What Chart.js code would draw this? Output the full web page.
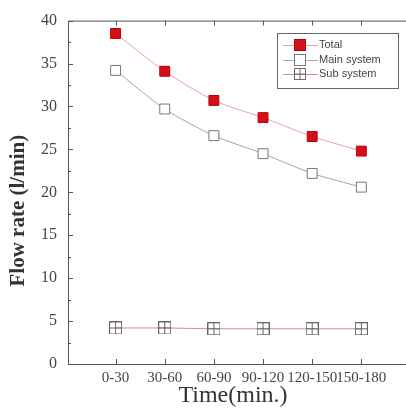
<!DOCTYPE html>
<html>
<head>
<meta charset="utf-8">
<script src="https://cdn.jsdelivr.net/npm/chart.js@4"></script>
<style>
  body { margin: 0; background: #fff; }
  #wrap { width: 406px; height: 414px; position: relative; }
</style>
</head>
<body>
<div id="wrap"><canvas id="flowChart"></canvas></div>
<script>
const timeLabels = ['0-30', '30-60', '60-90', '90-120', '120-150', '150-180'];
const totalFlow = [38.5, 34.1, 30.7, 28.7, 26.5, 24.8];
const mainFlow = [34.2, 29.7, 26.6, 24.5, 22.2, 20.6];
const subFlow = [4.2, 4.2, 4.1, 4.1, 4.1, 4.1];
const yTicks = [0, 5, 10, 15, 20, 25, 30, 35, 40];

// open square with a cross inside, for the sub system marker
function crossSquare(size, color) {
    const c = document.createElement('canvas');
    c.width = size; c.height = size;
    const g = c.getContext('2d');
    g.strokeStyle = color; g.lineWidth = 1;
    g.strokeRect(0.5, 0.5, size - 1, size - 1);
    g.beginPath();
    g.moveTo(size / 2, 0); g.lineTo(size / 2, size);
    g.moveTo(0, size / 2); g.lineTo(size, size / 2);
    g.stroke();
    return c;
}
const subMarker = crossSquare(13, '#666');

const serif = "'Liberation Serif', 'DejaVu Serif', serif";

const framePlugin = {
    id: 'frame',
    afterDraw(chart) {
        const { ctx, chartArea: a, scales } = chart;
        ctx.save();
        ctx.strokeStyle = '#555';
        ctx.lineWidth = 1;
        // frame: right side runs off the picture
        ctx.beginPath();
        ctx.moveTo(chart.width, a.top + 0.5); ctx.lineTo(a.left + 0.5, a.top + 0.5);
        ctx.lineTo(a.left + 0.5, a.bottom + 0.5); ctx.lineTo(chart.width, a.bottom + 0.5);
        // inward y ticks, majors and minors
        for (let v = 0; v <= 40; v += 2.5) {
            const y = Math.round(scales.y.getPixelForValue(v)) + 0.5;
            const len = v % 5 === 0 ? 5 : 3;
            ctx.moveTo(a.left, y); ctx.lineTo(a.left + len, y);
        }
        // inward x ticks top and bottom
        timeLabels.forEach((l, i) => {
            const x = Math.round(scales.x.getPixelForValue(i)) + 0.5;
            ctx.moveTo(x, a.top); ctx.lineTo(x, a.top + 5);
            ctx.moveTo(x, a.bottom); ctx.lineTo(x, a.bottom - 5);
        });
        ctx.stroke();

        // legend box
        const lx = 277, ly = 33, lw = 121, lh = 55;
        ctx.strokeStyle = '#666';
        ctx.strokeRect(lx + 0.5, ly + 0.5, lw, lh);
        ctx.font = "11px 'Liberation Sans', Arial, sans-serif";
        ctx.textBaseline = 'middle';
        const rows = [45, 60, 74];
        chart.data.datasets.forEach((ds, i) => {
            const y = rows[i];
            ctx.strokeStyle = ds.borderColor;
            ctx.beginPath(); ctx.moveTo(283, y + 0.5); ctx.lineTo(318, y + 0.5); ctx.stroke();
            if (ds.pointStyle === 'rect') {
                ctx.fillStyle = ds.pointBackgroundColor;
                ctx.strokeStyle = ds.pointBorderColor;
                ctx.fillRect(294, y - 6, 12, 12);
                ctx.strokeRect(294.5, y - 5.5, 11, 11);
            } else {
                ctx.drawImage(subMarker, 294, y - 6, 12, 12);
            }
            ctx.fillStyle = '#444';
            ctx.fillText(ds.label, 319, y);
        });
        ctx.restore();
    }
};

new Chart(document.getElementById('flowChart'), {
    type: 'line',
    data: {
        datasets: [
            {
                label: 'Total',
                data: totalFlow.map((v, i) => ({ x: i, y: v })),
                borderColor: '#e9a0a8', borderWidth: 1, tension: 0.25,
                pointStyle: 'rect', pointRadius: 7,
                pointBackgroundColor: '#d40f1c', pointBorderColor: '#b00', pointBorderWidth: 1
            },
            {
                label: 'Main system',
                data: mainFlow.map((v, i) => ({ x: i, y: v })),
                borderColor: '#9aa8a4', borderWidth: 1, tension: 0.25,
                pointStyle: 'rect', pointRadius: 7,
                pointBackgroundColor: '#fff', pointBorderColor: '#777', pointBorderWidth: 1
            },
            {
                label: 'Sub system',
                data: subFlow.map((v, i) => ({ x: i, y: v })),
                borderColor: '#d98a90', borderWidth: 1,
                pointStyle: subMarker, pointRadius: 7
            }
        ]
    },
    options: {
        responsive: true,
        maintainAspectRatio: false,
        animation: false,
        layout: { padding: { top: 18, right: 0 } },
        plugins: { legend: { display: false }, tooltip: { enabled: false } },
        scales: {
            x: {
                type: 'linear', min: -0.968, max: 5.746,
                afterBuildTicks: s => { s.ticks = timeLabels.map((l, i) => ({ value: i })); },
                afterFit: s => { s.height = 50; s.paddingLeft = 0; s.paddingRight = 0; },
                grid: { display: false, drawTicks: false },
                border: { display: false },
                ticks: {
                    callback: v => timeLabels[v], padding: 5, maxRotation: 0, autoSkip: false,
                    color: '#444', font: { family: serif, size: 15 }
                },
                title: {
                    display: true, text: 'Time(min.)', color: '#333', padding: { top: 5 },
                    font: { family: serif, size: 24 }
                }
            },
            y: {
                min: 0, max: 40,
                afterBuildTicks: s => { s.ticks = yTicks.map(v => ({ value: v })); },
                afterFit: s => { s.width = 68; },
                grid: { display: false, drawTicks: false },
                border: { display: false },
                ticks: { padding: 11, color: '#444', font: { family: serif, size: 16 } },
                title: {
                    display: true, text: 'Flow rate (l/min)       ', color: '#333',
                    padding: { top: 6, bottom: 0 },
                    font: { family: serif, size: 21, weight: 'bold' }
                }
            }
        }
    },
    plugins: [framePlugin]
});
</script>
</body>
</html>
